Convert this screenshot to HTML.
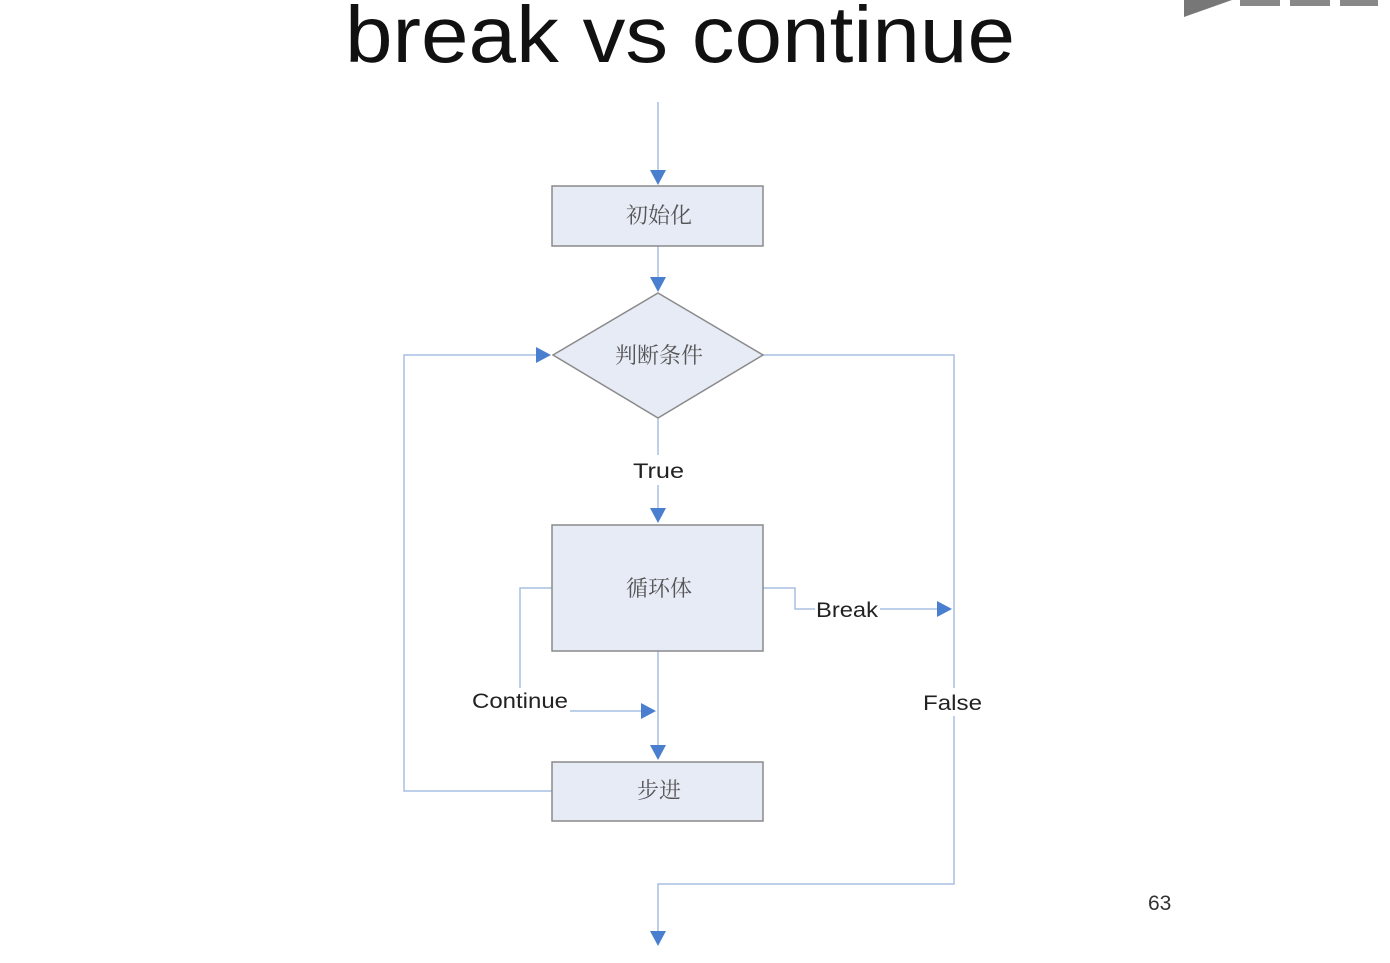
<!DOCTYPE html>
<html><head><meta charset="utf-8"><style>
html,body{margin:0;padding:0;background:#fff;}
svg{display:block;}
.cj{font-family:"Liberation Serif","Noto Serif CJK SC",serif;font-size:22px;fill:#555;}
.lb{font-family:"Liberation Sans",sans-serif;font-size:21px;fill:#222;}
</style></head><body>
<svg width="1390" height="963" viewBox="0 0 1390 963" xmlns="http://www.w3.org/2000/svg">
<text x="345" y="62" textLength="670" lengthAdjust="spacingAndGlyphs" style="font-family:'Liberation Sans',sans-serif;font-size:80px;fill:#111">break vs continue</text>
<polygon points="1184,0 1232,0 1184,17" fill="#777"/>
<rect x="1240" y="0" width="40" height="6" fill="#888"/>
<rect x="1290" y="0" width="40" height="6" fill="#888"/>
<rect x="1340" y="0" width="38" height="6" fill="#888"/>
<g fill="none" stroke="#a9bfe2" stroke-width="1.5">
<line x1="658" y1="102" x2="658" y2="172"/>
<line x1="658" y1="246" x2="658" y2="279"/>
<line x1="658" y1="418" x2="658" y2="455"/>
<line x1="658" y1="485" x2="658" y2="510"/>
<line x1="658" y1="651" x2="658" y2="747"/>
<polyline points="552,588 520,588 520,688"/>
<line x1="570" y1="711" x2="643" y2="711"/>
<polyline points="763,588 795,588 795,609 815,609"/>
<line x1="880" y1="609" x2="939" y2="609"/>
<polyline points="552,791 404,791 404,355 538,355"/>
<polyline points="763,355 954,355 954,688"/>
<polyline points="954,716 954,884 658,884 658,933"/>
</g>
<g fill="#4a7fcf">
<polygon points="650,170 666,170 658,185"/>
<polygon points="650,277 666,277 658,292"/>
<polygon points="650,508 666,508 658,523"/>
<polygon points="650,745 666,745 658,760"/>
<polygon points="650,931 666,931 658,946"/>
<polygon points="536,347 536,363 551,355"/>
<polygon points="641,703 641,719 656,711"/>
<polygon points="937,601 937,617 952,609"/>
</g>
<g fill="#e6ebf6" stroke="#8a8a8a" stroke-width="1.5">
<rect x="552" y="186" width="211" height="60"/>
<polygon points="658,293 763,355 658,418 553,355"/>
<rect x="552" y="525" width="211" height="126"/>
<rect x="552" y="762" width="211" height="59"/>
</g>
<text class="cj" x="659" y="223" text-anchor="middle">初始化</text>
<text class="cj" x="659" y="363" text-anchor="middle">判断条件</text>
<text class="cj" x="659" y="596" text-anchor="middle">循环体</text>
<text class="cj" x="659" y="798" text-anchor="middle">步进</text>
<text class="lb" x="633" y="478" textLength="51" lengthAdjust="spacingAndGlyphs">True</text>
<text class="lb" x="472" y="708" textLength="96" lengthAdjust="spacingAndGlyphs">Continue</text>
<text class="lb" x="816" y="617" textLength="62" lengthAdjust="spacingAndGlyphs">Break</text>
<text class="lb" x="923" y="710" textLength="59" lengthAdjust="spacingAndGlyphs">False</text>
<text x="1148" y="910" style="font-family:'Liberation Sans',sans-serif;font-size:21px;fill:#333">63</text>
</svg>
</body></html>
